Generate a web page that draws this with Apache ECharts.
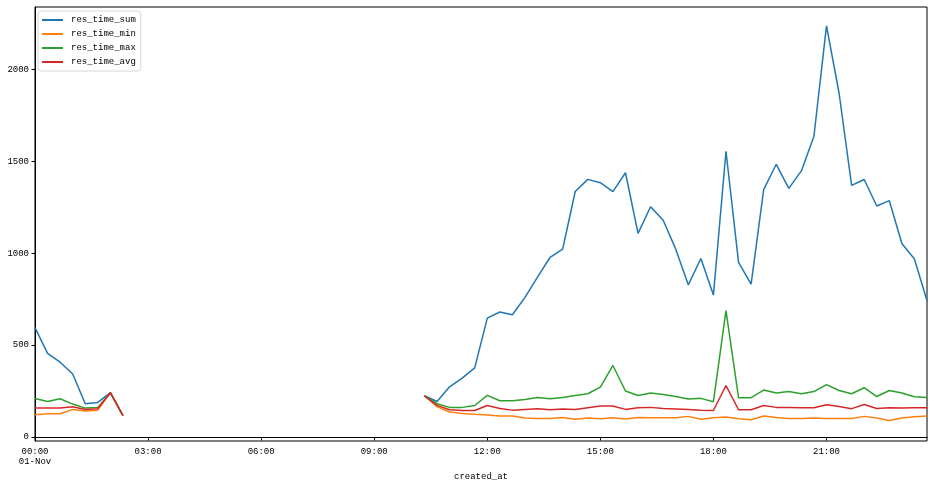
<!DOCTYPE html>
<html>
<head>
<meta charset="utf-8">
<script src="https://cdn.jsdelivr.net/npm/echarts@6/dist/echarts.min.js"></script>
<style>html,body{margin:0;padding:0;background:#fff;}#c{width:934px;height:486px;}</style>
</head>
<body>
<div id="c"></div>
<script>
var timeLabels = ["00:00","00:20","00:40","01:00","01:20","01:40","02:00","02:20",
  "10:20","10:40","11:00","11:20","11:40","12:00","12:20","12:40","13:00","13:20","13:40",
  "14:00","14:20","14:40","15:00","15:20","15:40","16:00","16:20","16:40","17:00","17:20","17:40",
  "18:00","18:20","18:40","19:00","19:20","19:40","20:00","20:20","20:40","21:00","21:20","21:40",
  "22:00","22:20","22:40","23:00","23:20","23:40"];
var resTimeSum = [595,455,407,343,181,188,241,116,
  224,193,273,320,376,647,680,665,760,870,978,1022,1336,1402,1384,1335,1438,1108,1253,1179,1022,828,971,
  772,1555,950,832,1346,1484,1353,1448,1637,2237,1872,1369,1401,1257,1286,1053,969,741];
var resTimeMin = [121,126,126,150,141,146,241,116,
  224,165,136,128,123,119,114,114,103,101,101,106,96,103,99,105,98,106,105,105,105,112,96,
  104,108,99,94,114,106,100,101,103,101,101,101,112,103,90,103,110,114];
var resTimeMax = [209,193,208,179,157,161,241,116,
  224,181,161,161,171,226,197,197,204,215,208,215,226,235,271,389,250,226,239,231,220,207,210,
  192,687,214,214,255,239,247,235,247,285,253,235,268,220,253,239,219,215];
var resTimeAvg = [157,157,158,164,150,154,241,116,
  224,172,148,144,144,171,155,146,150,154,148,152,150,159,168,168,150,159,161,155,152,149,146,
  144,280,148,148,171,161,160,159,159,175,166,154,177,155,159,157,159,159];
var seriesNames = ["res_time_sum","res_time_min","res_time_max","res_time_avg"];
var xTickLabels = ["00:00\n01-Nov","03:00","06:00","09:00","12:00","15:00","18:00","21:00"];
var yTickValues = [0,500,1000,1500,2000];

function toMin(t){var p=t.split(":");return (+p[0])*60+(+p[1]);}
function build(vals){
  var out=[];var prev=null;
  for(var i=0;i<timeLabels.length;i++){
    var m=toMin(timeLabels[i]);
    if(prev!==null && m-prev>20){out.push([prev+20,null]);}
    out.push([m,vals[i]]);prev=m;
  }
  return out;
}
var xTickValues = xTickLabels.map(function(l){return toMin(l.split("\n")[0]);});
var lastMin = toMin(timeLabels[timeLabels.length-1]);
var colors = ["#1f77b4","#ff7f0e","#2ca02c","#d62728"];
var allVals = [resTimeSum,resTimeMin,resTimeMax,resTimeAvg];
var font = "Liberation Mono";

var chart = echarts.init(document.getElementById('c'));
chart.setOption({
  animation:false,
  color:colors,
  grid:{left:35,top:7,right:7,bottom:44,show:true,borderColor:'#000',borderWidth:1,backgroundColor:'transparent'},
  legend:{
    orient:'vertical',left:38,top:11,icon:'rect',itemWidth:21,itemHeight:2,itemGap:4,
    padding:[4,5,4,4],borderColor:'#d6d6d6',borderWidth:1,borderRadius:3,backgroundColor:'#fff',
    textStyle:{fontFamily:font,fontSize:9,color:'#000',lineHeight:10,padding:[0,0,0,3]},
    data:seriesNames
  },
  xAxis:{
    type:'value',min:0,max:lastMin,
    name:'created_at',nameLocation:'middle',nameGap:31,
    nameTextStyle:{fontFamily:font,fontSize:9,color:'#000'},
    axisLine:{show:true,lineStyle:{color:'#000',width:1}},
    axisTick:{show:true,length:3.5,lineStyle:{color:'#000'},customValues:xTickValues},
    axisLabel:{customValues:xTickValues,fontFamily:font,fontSize:9,color:'#000',margin:6,lineHeight:10,
      formatter:function(v){var i=xTickValues.indexOf(v);return i>=0?xTickLabels[i]:'';}},
    splitLine:{show:false}
  },
  yAxis:{
    type:'value',min:-22,max:2340,
    axisLine:{show:true,lineStyle:{color:'#000',width:1}},
    axisTick:{show:true,length:3.5,lineStyle:{color:'#000'},customValues:yTickValues},
    axisLabel:{customValues:yTickValues,fontFamily:font,fontSize:9,color:'#000',margin:6,
      formatter:function(v){return String(Math.round(v));}},
    splitLine:{show:false}
  },
  series:seriesNames.map(function(n,i){
    return {name:n,type:'line',data:build(allVals[i]),showSymbol:false,symbol:'none',
      connectNulls:false,lineStyle:{width:1.5,color:colors[i]},itemStyle:{color:colors[i]}};
  })
});
</script>
</body>
</html>
